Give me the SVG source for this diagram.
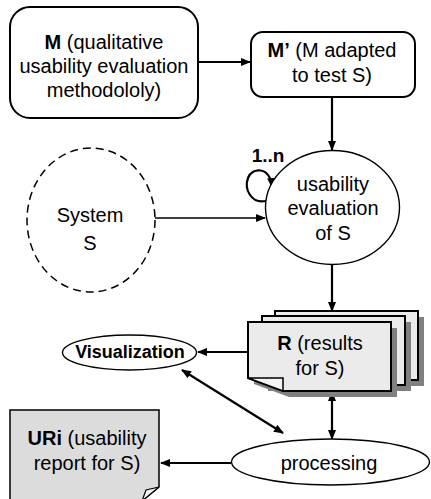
<svg xmlns="http://www.w3.org/2000/svg" width="431" height="499" viewBox="0 0 431 499">
<style>
text{font-family:"Liberation Sans",Arial,sans-serif;font-size:20px;fill:#000;text-anchor:middle}
.b{font-weight:bold}
.box{fill:#fff;stroke:#000;stroke-width:2}
.ell{fill:#fff;stroke:#000;stroke-width:1.4}
.page{fill:#ebebeb;stroke:#000;stroke-width:2}
.shadow{fill:#808080}
.c{fill:none;stroke:#000;stroke-width:2.2}
.t{fill:none;stroke:#000;stroke-width:1.3}
</style>
<defs>
<marker id="ah" markerUnits="userSpaceOnUse" markerWidth="10" markerHeight="8" refX="9" refY="4" orient="auto-start-reverse">
<path d="M0,0 L10,4 L0,8 Z" fill="#000"/>
</marker>
</defs>
<g id="connectors">
<line class="c" x1="198" y1="62" x2="250" y2="62" marker-end="url(#ah)"/>
<line class="c" x1="332" y1="98" x2="332" y2="150" marker-end="url(#ah)"/>
<line class="t" x1="155" y1="218" x2="265" y2="218" marker-end="url(#ah)"/>
<path class="c" d="M266,201 C251,204 244,189 248,178 C252,167 270,166 272,187" marker-end="url(#ah)"/>
<line class="c" x1="332" y1="265" x2="332" y2="311" marker-end="url(#ah)"/>
<line class="c" x1="248" y1="352" x2="198" y2="352" marker-end="url(#ah)"/>
<line class="c" x1="332" y1="392" x2="332" y2="439" marker-start="url(#ah)" marker-end="url(#ah)"/>
<line class="c" x1="182" y1="370" x2="283" y2="433" marker-start="url(#ah)" marker-end="url(#ah)"/>
<line class="c" x1="231" y1="463" x2="161" y2="463" marker-end="url(#ah)"/>
<text class="b" x="268" y="162" style="font-size:19px">1..n</text>
</g>
<g id="M">
<rect class="box" x="10" y="7" width="188" height="111" rx="20"/>
<text x="104" y="49"><tspan class="b">M</tspan> (qualitative</text>
<text x="104" y="73">usability evaluation</text>
<text x="104" y="97">methodololy)</text>
</g>
<g id="Mprime">
<rect class="box" x="251" y="32" width="164" height="65" rx="12"/>
<text x="332" y="57"><tspan class="b">M’</tspan> (M adapted</text>
<text x="332" y="82">to test S)</text>
</g>
<g id="System">
<ellipse cx="91" cy="220" rx="64" ry="72" fill="#fff" stroke="#000" stroke-width="1.5" stroke-dasharray="8,5"/>
<text x="90" y="222">System</text>
<text x="90" y="250">S</text>
</g>
<g id="evaluation">
<ellipse class="ell" cx="332.5" cy="207.5" rx="67" ry="57"/>
<text x="333" y="191">usability</text>
<text x="333" y="215">evaluation</text>
<text x="333" y="240">of S</text>
</g>
<g id="R">
<rect class="shadow" x="281" y="317" width="143" height="69"/>
<rect class="page" x="275" y="311" width="143" height="69"/>
<rect class="shadow" x="268" y="322" width="143" height="69"/>
<rect class="page" x="262" y="316" width="143" height="69"/>
<path class="shadow" d="M254,328 H397 V397 H289 L254,384 Z"/>
<path class="page" d="M248,322 H391 V391 H283 L248,378 Z"/>
<path d="M248,378 H283 V391 Z" fill="#f4f4f4" stroke="#000" stroke-width="1.5"/>
<text x="320" y="350"><tspan class="b">R</tspan> (results</text>
<text x="320" y="375">for S)</text>
</g>
<g id="Visualization">
<ellipse class="ell" cx="129.5" cy="352.5" rx="67" ry="17.5"/>
<text class="b" x="130" y="358" style="font-size:18px">Visualization</text>
</g>
<g id="processing">
<ellipse class="ell" cx="330.5" cy="462" rx="99" ry="23"/>
<text x="329" y="470">processing</text>
</g>
<g id="URi">
<path d="M10,410 H159 V487 L142,501 H10 Z" fill="#dcdcdc" stroke="#000" stroke-width="1.5"/>
<path d="M159,487 L146,490 L142,501 Z" fill="#f4f4f4" stroke="#000" stroke-width="1.2"/>
<text x="87" y="445"><tspan class="b">URi</tspan> (usability</text>
<text x="87" y="470">report for S)</text>
</g>
</svg>
